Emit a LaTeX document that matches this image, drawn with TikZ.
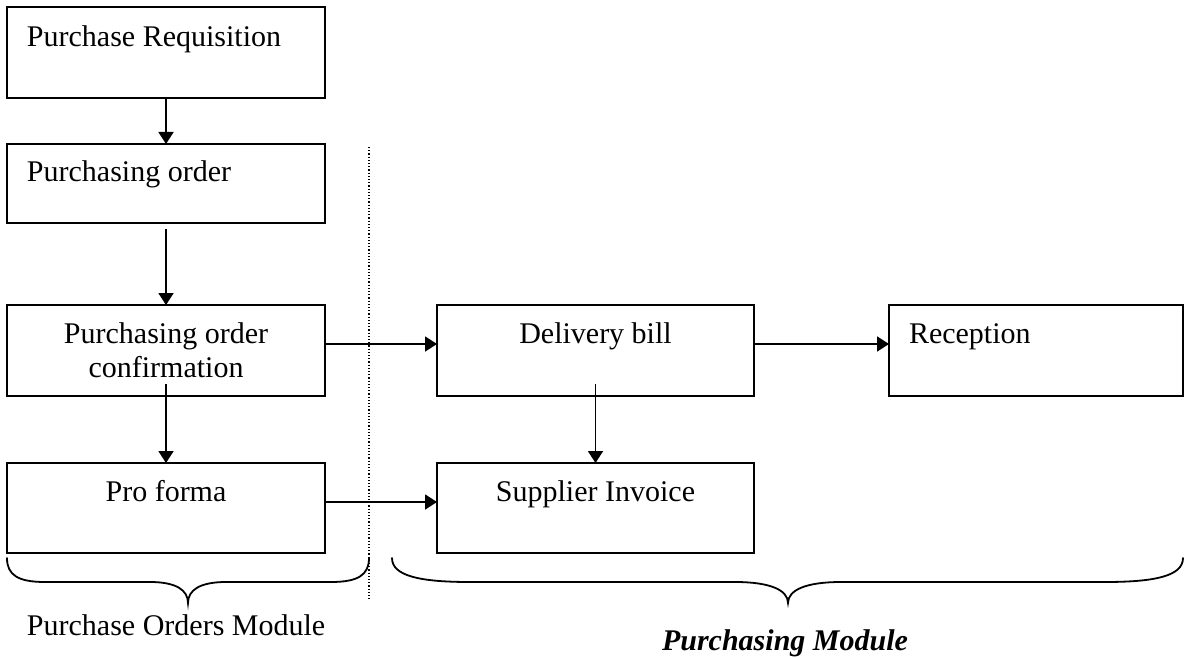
\documentclass[tikz,border=0pt]{standalone}
\usepackage{fontspec}
\setmainfont{Liberation Serif}
\usetikzlibrary{arrows.meta}

\begin{document}
\begin{tikzpicture}[x=1pt,y=-1pt,
  box/.style={draw, line width=1.8pt, minimum width=318pt, minimum height=91pt,
              inner sep=0pt, outer sep=0pt},
  txt/.style={inner sep=0pt, outer sep=0pt, font=\fontsize{30}{34}\selectfont},
  flow/.style={line width=1.8pt, -{Triangle[length=12pt,width=15pt]}},
  bracepath/.style={line width=1.8pt, line cap=round},
  divider/.style={line width=1.2pt, dotted}
]
\useasboundingbox (0,0) rectangle (1186,658);

% --- boxes of the purchase orders module
\node[box] (req)  at (166,52.5) {};
\node[box, minimum height=79pt] (po) at (166,183.5) {};
\node[box] (poc)  at (166,350.5) {};
\node[box, minimum height=90pt] (pf) at (166,508) {};

% --- boxes of the purchasing module
\node[box, minimum width=317pt] (del) at (595.5,350.5) {};
\node[box, minimum width=294pt] (rec) at (1036,350.5) {};
\node[box, minimum width=317pt, minimum height=90pt] (inv) at (595.5,508) {};

% --- box texts
\node[txt, anchor=base west] (reqt) at (27,47) {Purchase Requisition};
\node[txt, anchor=base west] (pot)  at (27,182) {Purchasing order};
\node[txt, anchor=base] (poct1) at (166,343) {Purchasing order};
\node[txt, anchor=base] (poct2) at (166,377) {confirmation};
\node[txt, anchor=base] (pft)  at (166,501) {Pro forma};
\node[txt, anchor=base] (delt) at (595.5,343) {Delivery bill};
\node[txt, anchor=base west] (rect) at (909,343) {Reception};
\node[txt, anchor=base] (invt) at (595.5,501) {Supplier Invoice};

% --- flow arrows
\draw[flow] (req) -- (po);
\draw[flow, shorten <=6pt] (po.south) -- (poc.north);
\draw[flow] ([yshift=12pt]poc.south) -- (pf.north);
\draw[flow] ([yshift=6.5pt]poc.east) -- ([yshift=6.5pt]del.west);
\draw[flow] ([yshift=6.5pt]del.east) -- ([yshift=6.5pt]rec.west);
\draw[flow] ([yshift=12pt]del.south) -- (inv.north);
\draw[flow] ([yshift=6pt]pf.east) -- ([yshift=6pt]inv.west);

% --- dotted divider between the two modules
\coordinate (divtop) at (369,147);
\coordinate (divbot) at (369,601);
\draw[divider] (divtop) -- (divbot);

% --- braces
\draw[bracepath] (7,558) .. controls (7,575) and (18,582) .. (45,582) -- (150,582)
  .. controls (176,582) and (188,590) .. (188,603)
  .. controls (188,590) and (200,582) .. (226,582) -- (331,582)
  .. controls (358,582) and (369,575) .. (369,558);
\draw[bracepath] (392,558) .. controls (392,576) and (420,582) .. (470,582) -- (735,582)
  .. controls (770,582) and (788,590) .. (788,603)
  .. controls (788,590) and (806,582) .. (841,582) -- (1105,582)
  .. controls (1155,582) and (1183,576) .. (1183,558);

% --- module labels
\node[txt, anchor=base west] (pomod) at (27,635) {Purchase Orders Module};
\node[txt, anchor=base, font=\fontsize{30}{34}\selectfont\bfseries\itshape] (pmod) at (785,650) {Purchasing Module};
\end{tikzpicture}
\end{document}
